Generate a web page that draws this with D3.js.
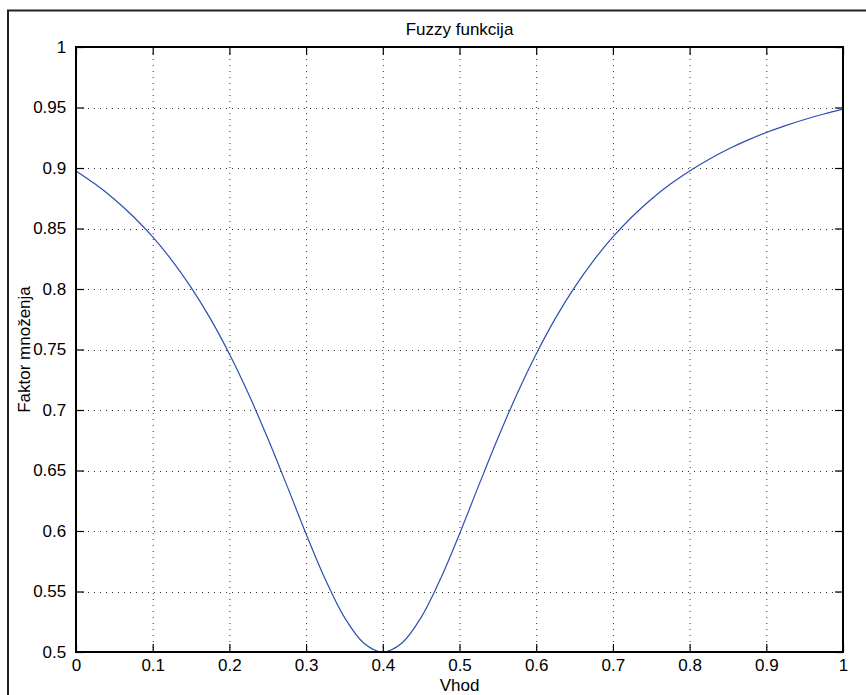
<!DOCTYPE html>
<html>
<head>
<meta charset="utf-8">
<script src="https://cdn.jsdelivr.net/npm/d3@7"></script>
<style>
  body { margin: 0; background: #fff; }
  svg { display: block; font-family: "Liberation Sans", Arial, Helvetica, sans-serif; }
</style>
</head>
<body>
<div id="container"></div>
<script>
// values (Vhod -> Faktor mnozenja)
const vhod = [0, 0.025, 0.05, 0.075, 0.1, 0.125, 0.15, 0.175, 0.2, 0.225, 0.25, 0.275, 0.3, 0.325, 0.35, 0.375,
  0.4, 0.425, 0.45, 0.475, 0.5, 0.525, 0.55, 0.575, 0.6, 0.625, 0.65, 0.675, 0.7, 0.725, 0.75, 0.775,
  0.8, 0.825, 0.85, 0.875, 0.9, 0.925, 0.95, 0.975, 1];
const faktor = [0.8976, 0.8867, 0.8742, 0.8597, 0.8430, 0.8237, 0.8013, 0.7757, 0.7463, 0.7132, 0.6766, 0.6375, 0.5976, 0.5601, 0.5286, 0.5075,
  0.5000, 0.5075, 0.5286, 0.5601, 0.5976, 0.6375, 0.6766, 0.7132, 0.7463, 0.7757, 0.8013, 0.8237, 0.8430, 0.8597, 0.8742, 0.8867,
  0.8976, 0.9071, 0.9155, 0.9228, 0.9293, 0.9350, 0.9401, 0.9446, 0.9486];
const xTicks = [0, 0.1, 0.2, 0.3, 0.4, 0.5, 0.6, 0.7, 0.8, 0.9, 1];
const yTicks = [0.5, 0.55, 0.6, 0.65, 0.7, 0.75, 0.8, 0.85, 0.9, 0.95, 1];

const w = 866, h = 695;
const axL = 76, axR = 843, axT = 47, axB = 652;
const tickLen = 8;
const fs = "17px";

const xScale = d3.scaleLinear().domain([0, 1]).range([axL, axR]);
const yScale = d3.scaleLinear().domain([0.5, 1]).range([axB, axT]);

const svg = d3.select("#container").append("svg")
  .attr("width", w).attr("height", h);

// figure frame (right/bottom run off the picture)
svg.append("rect")
  .attr("x", 8).attr("y", 10.5).attr("width", 900).attr("height", 720)
  .attr("fill", "none").attr("stroke", "#222").attr("stroke-width", 2);

// grid
svg.append("g").selectAll("line").data(xTicks.slice(1, -1)).enter().append("line")
  .attr("x1", d => xScale(d) + 0.5).attr("x2", d => xScale(d) + 0.5)
  .attr("y1", axT).attr("y2", axB)
  .attr("stroke", "#333").attr("stroke-width", 1).attr("stroke-dasharray", "1,5");
svg.append("g").selectAll("line").data(yTicks.slice(1, -1)).enter().append("line")
  .attr("x1", axL).attr("x2", axR)
  .attr("y1", d => Math.round(yScale(d)) + 0.5).attr("y2", d => Math.round(yScale(d)) + 0.5)
  .attr("stroke", "#333").attr("stroke-width", 1).attr("stroke-dasharray", "1,5");

// axes: ticks pointing inside, on all four sides
const xAxis = d3.axisBottom(xScale).tickValues(xTicks).tickSizeInner(-tickLen).tickSizeOuter(0)
  .tickPadding(7).tickFormat(d3.format("~g"));
const yAxis = d3.axisLeft(yScale).tickValues(yTicks).tickSizeInner(-tickLen).tickSizeOuter(0)
  .tickPadding(14).tickFormat(d3.format("~g"));

const gx = svg.append("g").attr("transform", "translate(0," + axB + ")").call(xAxis);
const gy = svg.append("g").attr("transform", "translate(" + axL + ",0)").call(yAxis);
svg.append("g").attr("transform", "translate(0," + axT + ")")
  .call(d3.axisTop(xScale).tickValues(xTicks).tickSizeInner(-tickLen).tickSizeOuter(0).tickFormat(""));
svg.append("g").attr("transform", "translate(" + axR + ",0)")
  .call(d3.axisRight(yScale).tickValues(yTicks).tickSizeInner(-tickLen).tickSizeOuter(0).tickFormat(""));

svg.selectAll(".domain").remove();
svg.selectAll(".tick line").attr("stroke", "#000").attr("stroke-width", 1.2);
svg.selectAll(".tick text").attr("fill", "#000").style("font-size", fs);
gy.selectAll(".tick text").attr("dx", "0.25em");

// curve
const line = d3.line()
  .x((d, i) => xScale(vhod[i]))
  .y(d => yScale(d))
  .curve(d3.curveCatmullRom);
svg.append("path").datum(faktor)
  .attr("d", line)
  .attr("fill", "none").attr("stroke", "#2b4fae").attr("stroke-width", 1.2);

// axes box
svg.append("rect")
  .attr("x", axL).attr("y", axT).attr("width", axR - axL).attr("height", axB - axT)
  .attr("fill", "none").attr("stroke", "#000").attr("stroke-width", 2);

svg.append("text")
  .attr("x", (axL + axR) / 2).attr("y", 35)
  .attr("text-anchor", "middle").style("font-size", fs)
  .text("Fuzzy funkcija");

svg.append("text")
  .attr("x", (axL + axR) / 2).attr("y", 691)
  .attr("text-anchor", "middle").style("font-size", fs)
  .text("Vhod");

svg.append("text")
  .attr("transform", "rotate(-90)")
  .attr("x", -(axT + axB) / 2).attr("y", 30)
  .attr("text-anchor", "middle").style("font-size", fs)
  .text("Faktor množenja");
</script>
</body>
</html>
